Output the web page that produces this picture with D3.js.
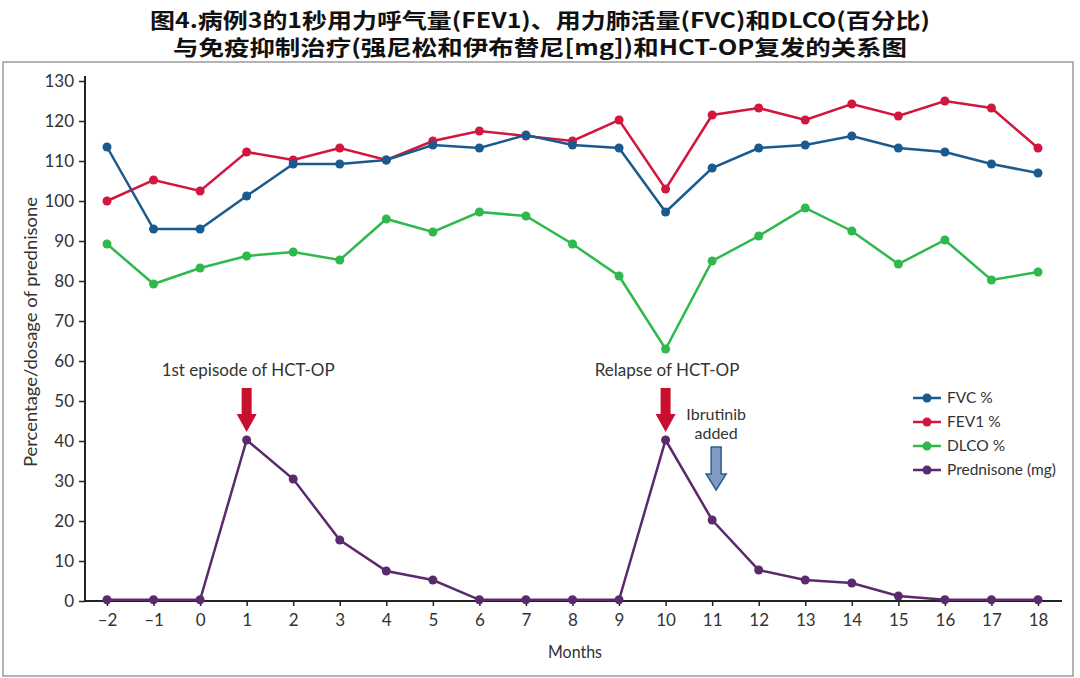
<!DOCTYPE html>
<html><head><meta charset="utf-8">
<script src="https://cdn.jsdelivr.net/npm/d3@7"></script>
<style>body{margin:0;background:#fff}svg{display:block}</style>
</head><body><svg id="c" width="1080" height="678"></svg>
<script>
const months = [-2,-1,0,1,2,3,4,5,6,7,8,9,10,11,12,13,14,15,16,17,18];
const fvc = [113.5,93,93,101.25,109.25,109.25,110.25,114,113.25,116.5,114,113.25,97.25,108.25,113.25,114,116.25,113.25,112.25,109.25,107];
const fev1 = [100,105.25,102.5,112.25,110.25,113.25,110.25,115,117.5,116.25,115,120.25,103,121.5,123.25,120.25,124.25,121.25,125,123.25,113.25];
const dlco = [89.25,79.25,83.25,86.25,87.25,85.25,95.5,92.25,97.25,96.25,89.25,81.25,63,85,91.25,98.25,92.5,84.25,90.25,80.25,82.25];
const prednisone = [0.3,0.3,0.3,40.25,30.5,15.25,7.5,5.25,0.3,0.3,0.3,0.3,40.25,20.25,7.75,5.25,4.5,1.25,0.3,0.3,0.3];
const yTicks = [0,10,20,30,40,50,60,70,80,90,100,110,120,130];
const seriesNames = ["FVC %","FEV1 %","DLCO %","Prednisone (mg)"];
const seriesColors = ["#1b5a8e","#d2163e","#2fb84c","#5a2a6c"];
const titleLines = ["图4.病例3的1秒用力呼气量(FEV1)、用力肺活量(FVC)和DLCO(百分比)","与免疫抑制治疗(强尼松和伊布替尼[mg])和HCT-OP复发的关系图"];
const annotations = [{month:1,label:"1st episode of HCT-OP"},{month:10,label:"Relapse of HCT-OP"}];
const ibrutinib = {month:11,label:["Ibrutinib","added"]};

const svg = d3.select("#c");
const font = "Lato, 'Open Sans', sans-serif";

// title
svg.selectAll("text.title").data(titleLines).join("text").attr("class","title")
  .attr("x",540).attr("y",(d,i)=>28+i*27).attr("text-anchor","middle")
  .attr("font-family","'Noto Sans CJK SC', sans-serif").attr("font-weight","bold")
  .attr("font-size",21).attr("fill","#111")
  .attr("textLength",(d,i)=>i===0?780:734).attr("lengthAdjust","spacingAndGlyphs")
  .text(d=>d);

// frame
svg.append("rect").attr("x",3).attr("y",62).attr("width",1070).attr("height",614)
  .attr("fill","none").attr("stroke","#9a9a9a").attr("stroke-width",1.5);

const x = d3.scaleLinear().domain([-2,18]).range([107,1038]);
const y = d3.scaleLinear().domain([0,130]).range([601,81]);

// axes
const yAxis = svg.append("g").attr("transform","translate(85,0)")
  .call(d3.axisLeft(y).tickValues(yTicks).tickSize(6).tickPadding(5).tickFormat(d3.format("d")));
yAxis.select(".domain").remove();
yAxis.append("line").attr("x1",0).attr("x2",0).attr("y1",76).attr("y2",602).attr("stroke","#222").attr("stroke-width",2);
const xAxis = svg.append("g").attr("transform","translate(0,601)")
  .call(d3.axisBottom(x).tickValues(months).tickSize(5).tickPadding(8)
    .tickFormat(d=>d<0?"\u2013"+Math.abs(d):d));
xAxis.select(".domain").remove();
xAxis.append("line").attr("x1",84).attr("x2",1062).attr("stroke","#222").attr("stroke-width",2);
svg.selectAll(".tick line").attr("stroke","#222").attr("stroke-width",1.5);
svg.selectAll(".tick text").attr("font-family",font).attr("font-size",17).attr("fill","#333");

svg.append("text").attr("transform","translate(37,332) rotate(-90)").attr("text-anchor","middle")
  .attr("font-family",font).attr("font-size",17).attr("fill","#333")
  .attr("textLength",270).attr("lengthAdjust","spacingAndGlyphs")
  .text("Percentage/dosage of prednisone");
svg.append("text").attr("x",575).attr("y",658).attr("text-anchor","middle")
  .attr("font-family",font).attr("font-size",17).attr("fill","#333")
  .attr("textLength",54).attr("lengthAdjust","spacingAndGlyphs").text("Months");

// series
const allSeries = [fvc,fev1,dlco,prednisone];
const line = d3.line().x((d,i)=>x(months[i])).y(d=>y(d));
const order = [3,2,1,0];
order.forEach(k=>{
  const g = svg.append("g");
  g.append("path").datum(allSeries[k]).attr("d",line).attr("fill","none")
    .attr("stroke",seriesColors[k]).attr("stroke-width",2.5);
  g.selectAll("circle").data(allSeries[k]).join("circle")
    .attr("cx",(d,i)=>x(months[i])).attr("cy",d=>y(d)).attr("r",4.5).attr("fill",seriesColors[k]);
});

// annotations
annotations.forEach(a=>{
  const cx = x(a.month);
  svg.append("text").attr("x",cx+1.5).attr("y",376).attr("text-anchor","middle")
    .attr("font-family",font).attr("font-size",17).attr("fill","#333").text(a.label);
  svg.append("path").attr("d",`M${cx-5},388 L${cx+5},388 L${cx+5},414 L${cx+10},414 L${cx},432 L${cx-10},414 L${cx-5},414 Z`)
    .attr("fill","#c8102e");
});
{
  const cx = x(ibrutinib.month) + 4;
  svg.selectAll("text.ib").data(ibrutinib.label).join("text").attr("class","ib")
    .attr("x",cx).attr("y",(d,i)=>420+i*19).attr("text-anchor","middle")
    .attr("font-family",font).attr("font-size",16).attr("fill","#333").text(d=>d);
  svg.append("path").attr("d",`M${cx-5},447 L${cx+5},447 L${cx+5},474 L${cx+10},474 L${cx},490 L${cx-10},474 L${cx-5},474 Z`)
    .attr("fill","#7f9bc2").attr("stroke","#2d5f8c").attr("stroke-width",1.5);
}

// legend
const lg = svg.append("g");
seriesNames.forEach((n,i)=>{
  const yy = 398 + i*24;
  lg.append("line").attr("x1",913).attr("x2",941).attr("y1",yy).attr("y2",yy).attr("stroke",seriesColors[i]).attr("stroke-width",2.5);
  lg.append("circle").attr("cx",927).attr("cy",yy).attr("r",4.5).attr("fill",seriesColors[i]);
  lg.append("text").attr("x",947).attr("y",yy+5).attr("font-family",font).attr("font-size",15.5).attr("fill","#333").text(n);
});
</script></body></html>
